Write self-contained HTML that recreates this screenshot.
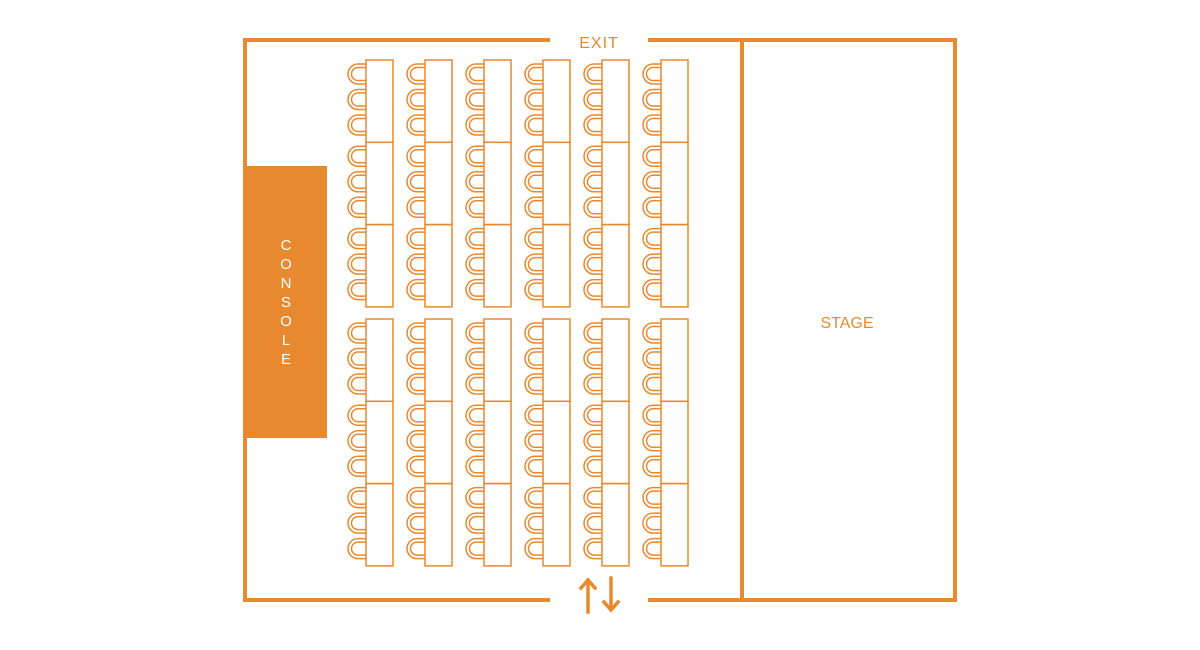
<!DOCTYPE html>
<html><head><meta charset="utf-8">
<style>
html,body{margin:0;padding:0;background:#fff;}
svg{display:block;}
text{font-family:"Liberation Sans",sans-serif;fill:#E8892F;}
</style></head>
<body>
<svg id="s" width="1200" height="650" viewBox="0 0 1200 650" xmlns="http://www.w3.org/2000/svg">
<g stroke="#E8892F" stroke-width="4" fill="none">
<polyline points="550,40 245,40 245,600 550,600"/>
<polyline points="648,40 955,40 955,600 648,600"/>
<line x1="742" y1="40" x2="742" y2="600"/>
</g>
<rect x="245" y="166" width="82" height="272" fill="#E8892F"/>
<text x="599" y="48" font-size="16" text-anchor="middle" letter-spacing="1">EXIT</text>
<text x="847" y="328" font-size="16" text-anchor="middle">STAGE</text>
<g font-size="15" text-anchor="middle">
<text x="286" y="250" style="fill:#fff">C</text>
<text x="286" y="269" style="fill:#fff">O</text>
<text x="286" y="288" style="fill:#fff">N</text>
<text x="286" y="307" style="fill:#fff">S</text>
<text x="286" y="326" style="fill:#fff">O</text>
<text x="286" y="345" style="fill:#fff">L</text>
<text x="286" y="364" style="fill:#fff">E</text>
</g>
<g stroke="#E8892F" stroke-width="3.5" fill="none" stroke-linecap="square">
<line x1="588" y1="612" x2="588" y2="581"/>
<polyline points="581,588 588,580 595,588"/>
<line x1="611" y1="578" x2="611" y2="609"/>
<polyline points="604,602 611,610 618,602"/>
</g>
<g id="g" stroke="#E8892F" stroke-width="1.5" fill="none"></g>
</svg>
<script>
var g=document.getElementById('g'),h='';
var cols=[366,425,484,543,602,661];
var groups=[60,319];
var th=82.3;
cols.forEach(function(x){
 groups.forEach(function(y0){
  for(var t=0;t<3;t++){
   var ty=y0+t*th;
   h+='<rect x="'+x+'" y="'+ty.toFixed(1)+'" width="27" height="'+th+'"/>';
   for(var c=0;c<3;c++){
    var cy=ty+14+c*25.5;
    h+='<path d="M'+x+','+(cy-10)+' H'+(x-8)+' A10,10 0 0 0 '+(x-8)+','+(cy+10)+' H'+x+'"/>';
    h+='<path d="M'+x+','+(cy-6.5)+' H'+(x-8)+' A6.5,6.5 0 0 0 '+(x-8)+','+(cy+6.5)+' H'+x+'"/>';
   }
  }
 });
});
g.innerHTML=h;
</script>
</body></html>
